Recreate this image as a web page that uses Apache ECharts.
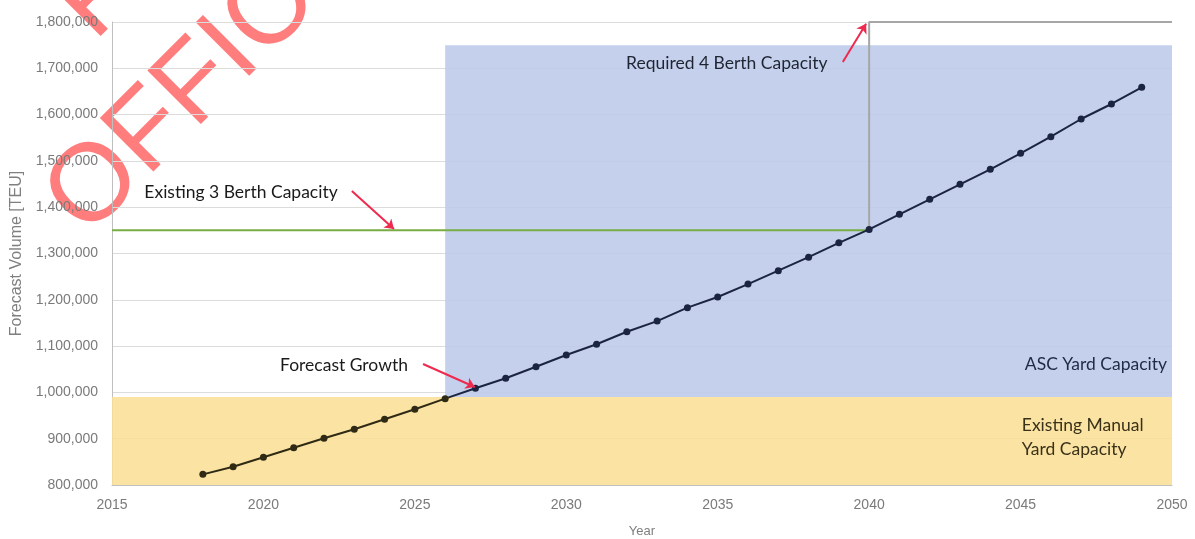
<!DOCTYPE html>
<html><head><meta charset="utf-8">
<script src="https://cdn.jsdelivr.net/npm/echarts@6/dist/echarts.min.js"></script>
<style>html,body{margin:0;padding:0;background:#fff}#c{width:1195px;height:539px}</style>
</head><body><div id="c"></div>
<script>
// ---- data ----
const years = [2018,2019,2020,2021,2022,2023,2024,2025,2026,2027,2028,2029,2030,2031,2032,2033,2034,2035,2036,2037,2038,2039,2040,2041,2042,2043,2044,2045,2046,2047,2048,2049];
const forecast = [823000,839500,859800,880600,900900,920300,941900,963500,986500,1008900,1030500,1055500,1080800,1103900,1131000,1154000,1183000,1206000,1234000,1263000,1292000,1323000,1352000,1384600,1417000,1449500,1481900,1516400,1552300,1590500,1622900,1659000];
const existingBerth = [[2015,1350000],[2040,1350000]];
const requiredBerth = [[2040,1350000],[2040,1800000],[2050,1800000]];
const manualYard = [[2015,800000],[2050,990000]];
const ascYard = [[2026,990000],[2050,1750000]];
const annotations = [
  {name:'Required 4 Berth Capacity', coord:[2035.3,1711000], color:'#1f2433', align:'center'},
  {name:'Existing 3 Berth Capacity', coord:[2019.26,1433000], color:'#1a1a1a', align:'center'},
  {name:'Forecast Growth', coord:[2022.66,1059000], color:'#1a1a1a', align:'center'},
  {name:'ASC Yard Capacity', coord:[2047.49,1061000], color:'#1f2a44', align:'center'},
  {name:'Existing Manual\nYard Capacity', coord:[2045.04,903700], color:'#3a3218', align:'left'}
];
const arrows = [
  [[2039.13,1713600],[2039.9,1796000]],
  [[2022.92,1435000],[2024.31,1353000]],
  [[2025.27,1061300],[2026.98,1011700]]
];

// ---- colours ----
const olive = '#2f2a14', navy = '#1b2440';
let ci = forecast.findIndex(v => v >= manualYard[1][1]);
const crossX = years[ci-1] + (manualYard[1][1]-forecast[ci-1])/(forecast[ci]-forecast[ci-1]);
const f = (crossX - years[0])/(years[years.length-1]-years[0]);

const chart = echarts.init(document.getElementById('c'));
const axisFont = 'Liberation Sans';
const annFont = 'Lato';
const wm = 'rgba(255,70,70,0.7)';

chart.setOption({
  animation:false,
  backgroundColor:'#fff',
  grid:{left:112,right:23,top:22,bottom:54,outerBoundsMode:'none',containLabel:false},
  xAxis:{type:'value',min:2015,max:2050,interval:5,
    name:'Year',nameLocation:'middle',nameGap:40,
    nameTextStyle:{color:'#7f7f7f',fontSize:13,fontFamily:axisFont},
    axisLine:{show:true,lineStyle:{color:'#bfbfbf'}},axisTick:{show:false},
    splitLine:{show:false},
    axisLabel:{color:'#7a7a7a',fontSize:14,fontFamily:axisFont,margin:13,formatter:v=>String(v)}},
  yAxis:{type:'value',min:800000,max:1800000,interval:100000,
    name:'Forecast Volume [TEU]',nameLocation:'middle',nameGap:85,
    nameTextStyle:{color:'#7f7f7f',fontSize:16,fontFamily:axisFont},
    axisLine:{show:true,lineStyle:{color:'#bfbfbf'}},axisTick:{show:false},
    splitLine:{lineStyle:{color:'#dcdcdc',width:1}},
    axisLabel:{color:'#7a7a7a',fontSize:14,fontFamily:axisFont,margin:14,
      formatter:v=>v.toLocaleString('en-US')}},
  series:[
    {type:'line',data:[],silent:true,z:1,
      markArea:{silent:true,data:[
        [{coord:manualYard[0],itemStyle:{color:'rgba(250,222,148,0.85)'}},{coord:manualYard[1]}],
        [{coord:ascYard[0],itemStyle:{color:'rgba(189,203,233,0.88)'}},{coord:ascYard[1]}]
      ]}},
    {type:'line',data:existingBerth,symbol:'none',z:3,lineStyle:{color:'#78ad45',width:2}},
    {type:'line',data:requiredBerth,symbol:'none',z:3,lineStyle:{color:'#a6a6a6',width:2}},
    {type:'line',data:years.map((y,i)=>[y,forecast[i]]),symbol:'circle',symbolSize:7,z:4,
      lineStyle:{width:2,color:new echarts.graphic.LinearGradient(0,0,1,0,[
        {offset:0,color:olive},{offset:f,color:olive},{offset:f,color:navy},{offset:1,color:navy}])},
      itemStyle:{color:p=>p.value[1] < manualYard[1][1] ? olive : navy}},
    {type:'line',data:[],z:6,silent:true,
      markLine:{silent:true,symbol:['none','arrow'],symbolSize:9,
        lineStyle:{color:'#ee2a4f',width:2,type:'solid'},label:{show:false},
        data:arrows.map(a=>[{coord:a[0]},{coord:a[1]}])},
      markPoint:{silent:true,symbol:'circle',symbolSize:1,itemStyle:{color:'rgba(0,0,0,0)'},
        data:annotations.map(a=>({name:a.name,coord:a.coord,
          label:{show:true,position:'inside',formatter:a.name,color:a.color,fontSize:17.5,
            fontFamily:annFont,align:a.align,lineHeight:24}}))}}
  ],
  graphic:[{type:'group',x:65,y:217,rotation:45*Math.PI/180,z:100,silent:true,children:[
    {type:'text',x:0,y:0,style:{text:'OFFICIAL',font:'110px "Liberation Sans"',fill:wm,align:'left',verticalAlign:'middle'}},
    {type:'text',x:144,y:-133,style:{text:'FOR',font:'110px "Liberation Sans"',fill:wm,align:'left',verticalAlign:'middle'}}
  ]}]
});
</script></body></html>
